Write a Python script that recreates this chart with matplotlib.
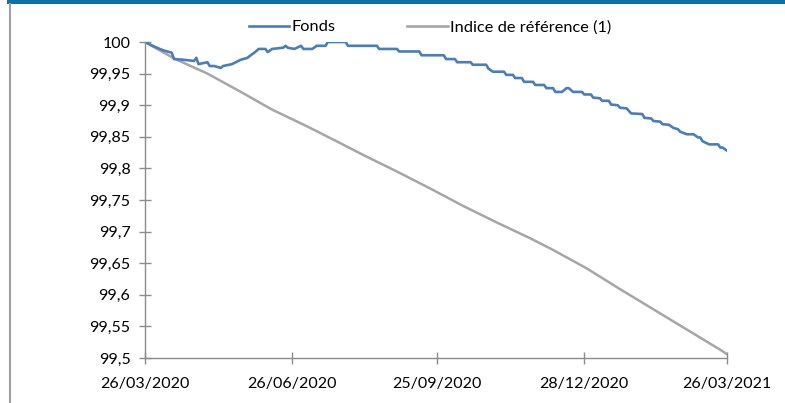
import numpy as np
import pandas as pd
import matplotlib
matplotlib.use("Agg")
import matplotlib.pyplot as plt
from matplotlib.lines import Line2D

# jours ouvrés du 26/03/2020 au 26/03/2021 (axe catégories)
dates = pd.bdate_range("2020-03-26", "2021-03-26")
tick_dates = ["2020-03-26", "2020-06-26", "2020-09-25", "2020-12-28", "2021-03-26"]
tick_labels = ["26/03/2020", "26/06/2020", "25/09/2020", "28/12/2020", "26/03/2021"]

# Fonds : jour ouvré (index) et valeur
fonds_jour = [0, 4, 8, 12, 13, 17, 22, 23, 24, 28, 29, 31, 34, 35, 39, 43, 46, 47, 49, 51,
              54, 55, 57, 62, 63, 64, 67, 70, 71, 75, 77, 81, 82, 90, 91, 104, 105, 113, 114, 123,
              124, 134, 135, 139, 140, 146, 147, 153, 154, 156, 161, 162, 165, 166, 169, 170, 174, 175, 179, 180,
              183, 184, 187, 189, 190, 192, 196, 197, 200, 201, 204, 205, 208, 209, 212, 213, 216, 218, 223, 224,
              227, 228, 231, 232, 235, 237, 239, 240, 243, 246, 248, 249, 250, 253, 257, 258, 259, 261]
fonds_val = [100.000, 99.993, 99.987, 99.983, 99.973, 99.972, 99.970, 99.975, 99.965, 99.968,
             99.962, 99.962, 99.959, 99.962, 99.965, 99.972, 99.975, 99.978, 99.983, 99.989,
             99.989, 99.984, 99.989, 99.991, 99.994, 99.991, 99.989, 99.994, 99.989, 99.989,
             99.994, 99.994, 100.000, 100.000, 99.994, 99.994, 99.989, 99.989, 99.985, 99.985,
             99.979, 99.979, 99.973, 99.973, 99.968, 99.968, 99.964, 99.964, 99.958, 99.953,
             99.953, 99.948, 99.948, 99.943, 99.943, 99.937, 99.937, 99.932, 99.932, 99.927,
             99.927, 99.921, 99.921, 99.927, 99.927, 99.921, 99.921, 99.917, 99.917, 99.912,
             99.911, 99.907, 99.907, 99.901, 99.900, 99.896, 99.895, 99.887, 99.886, 99.880,
             99.879, 99.875, 99.874, 99.870, 99.869, 99.864, 99.862, 99.858, 99.854, 99.854,
             99.849, 99.849, 99.843, 99.838, 99.838, 99.833, 99.833, 99.828]

# Indice de référence (1)
indice_jour = [0, 1, 13, 28, 43, 57, 73, 87, 98, 113, 128, 143, 158, 173, 183, 198, 213, 228, 243, 258, 261]
indice_val = [100.000, 99.998, 99.974, 99.950, 99.921, 99.893, 99.866, 99.841, 99.821, 99.795,
              99.768, 99.740, 99.714, 99.689, 99.671, 99.642, 99.609, 99.577, 99.545, 99.513, 99.506]

y_ticks = [99.5, 99.55, 99.6, 99.65, 99.7, 99.75, 99.8, 99.85, 99.9, 99.95, 100]

plt.rcParams['font.family'] = ['Lato', 'DejaVu Sans']

fig = plt.figure(figsize=(7.85, 4.03), dpi=100)
ax = fig.add_axes([145 / 785, 1 - 358 / 403, (727 - 145) / 785, (358 - 42) / 403])

ax.plot(indice_jour, indice_val, color='#a6a6a6', lw=1.8, solid_joinstyle='round')
ax.plot(fonds_jour, fonds_val, color='#4a7ebb', lw=1.9, solid_joinstyle='round')

ax.set_xlim(0, len(dates) - 1)
ax.set_ylim(99.5, 100)

tick_pos = [dates.get_loc(pd.Timestamp(d)) for d in tick_dates]
ax.set_xticks(tick_pos)
ax.set_xticklabels(tick_labels, fontsize=11.5)
ax.set_yticks(y_ticks)
ax.set_yticklabels([f"{v:g}".replace('.', ',') for v in y_ticks], fontsize=11.5)

for s in ['top', 'right']:
    ax.spines[s].set_visible(False)
for s in ['left', 'bottom']:
    ax.spines[s].set_color('#8c8c8c')
    ax.spines[s].set_linewidth(1.0)
ax.tick_params(axis='both', direction='inout', length=9, width=1.0, color='#8c8c8c', colors='black')
ax.tick_params(axis='y', pad=6)
ax.tick_params(axis='x', pad=9)

handles = [Line2D([], [], color='#4a7ebb', lw=1.9), Line2D([], [], color='#a6a6a6', lw=1.9)]
fig.legend(handles, ['Fonds', 'Indice de référence (1)'], ncol=2, frameon=False,
           loc='center', bbox_to_anchor=(430 / 785, 1 - 27 / 403), fontsize=11.8,
           handlelength=2.45, handletextpad=0.15, columnspacing=4.4)

# bandeau bleu en haut et filet gris à gauche
fig.add_artist(plt.Rectangle((7 / 785, 1 - 4 / 403), 1, 4 / 403, transform=fig.transFigure,
                             color='#0a72a8', lw=0))
fig.add_artist(Line2D([10 / 785, 10 / 785], [0, 1 - 4 / 403], transform=fig.transFigure,
                      color='#a0a0a0', lw=1.5))

fig.savefig('out.png', dpi=100)
